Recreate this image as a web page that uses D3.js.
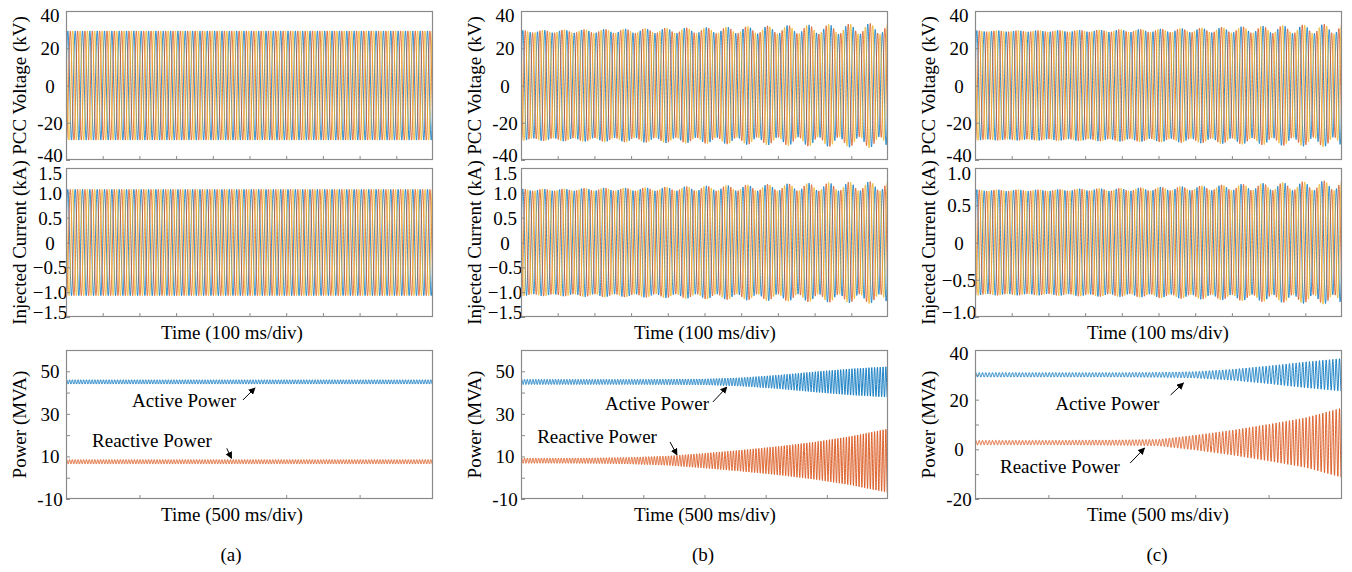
<!DOCTYPE html>
<html>
<head>
<meta charset="utf-8">
<script src="https://cdn.jsdelivr.net/npm/d3@7/dist/d3.min.js"></script>
<style>
  body { margin: 0; background: #fff; }
  svg text { font-family: "Liberation Serif", "Times New Roman", serif; font-size: 19px; fill: #000; }
</style>
</head>
<body>
<svg id="chart" width="1352" height="572"></svg>
<script>
/* global d3 */

// envelope sample points, as fraction of the time window
const envT = [0, 0.1, 0.2, 0.3, 0.4, 0.5, 0.6, 0.7, 0.8, 0.9, 1.0];

// PCC voltage peak (kV) and sub-synchronous part (kV), per case
const voltAmpA = [29.3, 29.3, 29.3, 29.3, 29.3, 29.3, 29.3, 29.3, 29.3, 29.3, 29.3];
const voltModA = [0, 0, 0, 0, 0, 0, 0, 0, 0, 0, 0];
const voltAmpB = [29.0, 29.1, 29.2, 29.3, 29.5, 29.6, 29.8, 30.0, 30.2, 30.4, 30.6];
const voltModB = [0.6, 0.8, 1.0, 1.2, 1.4, 1.6, 1.9, 2.2, 2.5, 2.8, 3.1];
const voltAmpC = [29.2, 29.2, 29.2, 29.3, 29.4, 29.5, 29.7, 29.9, 30.1, 30.3, 30.5];
const voltModC = [0.3, 0.3, 0.4, 0.5, 0.7, 0.9, 1.2, 1.6, 2.0, 2.4, 2.8];

// injected current peak (kA) and sub-synchronous part (kA)
const currAmpA = [1.07, 1.07, 1.07, 1.07, 1.07, 1.07, 1.07, 1.07, 1.07, 1.07, 1.07];
const currModA = [0, 0, 0, 0, 0, 0, 0, 0, 0, 0, 0];
const currAmpB = [1.06, 1.06, 1.07, 1.07, 1.08, 1.09, 1.10, 1.11, 1.12, 1.13, 1.14];
const currModB = [0.02, 0.02, 0.03, 0.03, 0.04, 0.05, 0.06, 0.07, 0.08, 0.09, 0.10];
const currAmpC = [0.70, 0.70, 0.70, 0.71, 0.71, 0.72, 0.73, 0.74, 0.75, 0.76, 0.77];
const currModC = [0.01, 0.01, 0.01, 0.015, 0.02, 0.025, 0.03, 0.04, 0.05, 0.06, 0.07];

// power: mean level (MVA) and oscillation half-swing (MVA)
const activeMean = [45, 45, 30];
const reactiveMean = [7.5, 8.0, 2.7];
const activeSwingA = [1.0, 1.0, 1.0, 1.0, 1.0, 1.0, 1.0, 1.0, 1.0, 1.0, 1.0];
const reactiveSwingA = [1.0, 1.0, 1.0, 1.0, 1.0, 1.0, 1.0, 1.0, 1.0, 1.0, 1.0];
const activeSwingB = [1.2, 1.2, 1.2, 1.2, 1.3, 1.4, 2.0, 3.2, 4.8, 6.2, 7.2];
const reactiveSwingB = [1.2, 1.2, 1.3, 1.6, 2.2, 3.5, 5.0, 6.7, 8.8, 11.5, 15.0];
const activeSwingC = [0.9, 0.9, 0.9, 0.9, 0.9, 1.0, 1.3, 2.2, 3.6, 5.2, 6.6];
const reactiveSwingC = [0.9, 0.9, 0.9, 1.0, 1.1, 1.3, 3.0, 5.0, 7.4, 10.0, 14.0];

// cycles shown in each window
const gridCycles = 50;        // 1 s at 50 Hz
const subSyncCycles = 32;
const powerCycles = [130, 130, 110];

// axes
const voltTicks = [-40, -20, 0, 20, 40];
const currTicksAB = [-1.5, -1, -0.5, 0, 0.5, 1, 1.5];
const currTicksC = [-1, -0.5, 0, 0.5, 1];
const powerTicksAB = [-10, 0, 10, 20, 30, 40, 50];
const powerLabelsAB = [-10, 10, 30, 50];
const powerTicksC = [-20, -10, 0, 10, 20, 30, 40];
const powerLabelsC = [-20, 0, 20, 40];
const powerDivs = [5, 6, 5];

// annotation positions [time fraction, value]
const activeText = [[0.18, 33.2], [0.229, 31.8], [0.219, 15.8]];
const activeArrow = [[[0.482, 36.5], [0.515, 42.2]], [[0.523, 35.6], [0.561, 42.6]], [[0.533, 21.9], [0.568, 26.7]]];
const reactiveText = [[0.071, 14.4], [0.044, 16.3], [0.068, -9.5]];
const reactiveArrow = [[[0.438, 13.8], [0.451, 9.1]], [[0.406, 16.8], [0.425, 10.7]], [[0.423, -5.5], [0.462, 0.5]]];

const captions = ["(a)", "(b)", "(c)"];
const phaseColors = ["#0072BD", "#D95319", "#EDB120"];
const activeColor = "#0072BD";
const reactiveColor = "#D95319";

const colLeft = [66, 521, 975];
const plotW = 367;
const labelCenter = [232, 705, 1158];
const captionCenter = [231, 703, 1157];
const rows = [{ top: 11, bottom: 160 }, { top: 168, bottom: 317 }, { top: 350, bottom: 499 }];
const frameColor = "#8a8a8a";

const svg = d3.select("#chart");
svg.append("rect").attr("width", 1352).attr("height", 572).attr("fill", "#fff");
const defs = svg.append("defs");
defs.append("marker")
    .attr("id", "head")
    .attr("viewBox", "0 0 10 10")
    .attr("refX", 9).attr("refY", 5)
    .attr("markerWidth", 7).attr("markerHeight", 7)
    .attr("markerUnits", "userSpaceOnUse")
    .attr("orient", "auto")
    .append("path")
    .attr("d", "M0,0L10,5L0,10z")
    .attr("fill", "#000");

const intFmt = v => String(v);
const oneDec = v => v === 0 ? "0" : d3.format(".1f")(v);

const makePanel = (col, row, yDomain) => {
    const x = d3.scaleLinear().domain([0, 1]).range([colLeft[col], colLeft[col] + plotW]);
    const y = d3.scaleLinear().domain(yDomain).range([rows[row].bottom, rows[row].top]);
    const clipId = "clip" + col + "_" + row;
    defs.append("clipPath").attr("id", clipId)
        .append("rect")
        .attr("x", colLeft[col]).attr("y", rows[row].top)
        .attr("width", plotW).attr("height", rows[row].bottom - rows[row].top);
    const plot = svg.append("g").attr("clip-path", "url(#" + clipId + ")");
    const over = svg.append("g");
    return { x, y, plot, over, col, row };
};

const drawAxes = (p, ticks, labelled, fmt, xDivs, yLabel, nudgeTop, nudgeBottom) => {
    const yAxis = d3.axisLeft(p.y)
        .tickValues(ticks)
        .tickSize(-4)
        .tickFormat(d => labelled.includes(d) ? fmt(d) : "");
    const ga = p.over.append("g")
        .attr("transform", "translate(" + colLeft[p.col] + ",0)")
        .call(yAxis);
    ga.select(".domain").remove();
    ga.selectAll("line").attr("stroke", frameColor);
    const top = d3.max(ticks), bottom = d3.min(ticks);
    ga.selectAll("text")
        .attr("x", -16)
        .attr("text-anchor", "middle")
        .attr("fill", "#000")
        .style("font-size", "19px")
        .style("font-family", "'Liberation Serif', 'Times New Roman', serif")
        .attr("dy", d => (d === top ? nudgeTop : d === bottom ? -nudgeBottom : 0) + 6.5 + "px");

    const xAxis = d3.axisBottom(p.x)
        .tickValues(d3.range(1, xDivs).map(i => i / xDivs))
        .tickSize(-4)
        .tickFormat("");
    const gx = p.over.append("g")
        .attr("transform", "translate(0," + rows[p.row].bottom + ")")
        .call(xAxis);
    gx.select(".domain").remove();
    gx.selectAll("line").attr("stroke", frameColor);

    p.over.append("rect")
        .attr("x", colLeft[p.col] + 0.5).attr("y", rows[p.row].top + 0.5)
        .attr("width", plotW - 1).attr("height", rows[p.row].bottom - rows[p.row].top - 1)
        .attr("fill", "none")
        .attr("stroke", frameColor)
        .attr("stroke-width", 1.2);

    const cy = (rows[p.row].top + rows[p.row].bottom) / 2;
    p.over.append("text")
        .attr("transform", "translate(" + (colLeft[p.col] - 47) + "," + cy + ") rotate(-90)")
        .attr("text-anchor", "middle")
        .attr("dy", "0.35em")
        .text(yLabel);
};

const threePhase = (p, amp, mod) => {
    const ampS = d3.scaleLinear().domain(envT).range(amp);
    const modS = d3.scaleLinear().domain(envT).range(mod);
    const n = 4000;
    const line = d3.line().x(d => p.x(d[0])).y(d => p.y(d[1]));
    phaseColors.forEach((c, k) => {
        const shift = 2 * Math.PI * k / 3;
        const pts = d3.range(n + 1).map(i => {
            const t = i / n;
            return [t, ampS(t) * Math.sin(2 * Math.PI * gridCycles * t - shift)
                + modS(t) * Math.sin(2 * Math.PI * subSyncCycles * t - shift + 0.6)];
        });
        p.plot.append("path")
            .datum(pts)
            .attr("fill", "none")
            .attr("stroke", c)
            .attr("stroke-width", 0.8)
            .attr("d", line);
    });
};

const powerTrace = (p, mean, swing, cycles, color) => {
    const swingS = d3.scaleLinear().domain(envT).range(swing);
    const n = 5000;
    const pts = d3.range(n + 1).map(i => {
        const t = i / n;
        return [t, mean + swingS(t) * Math.sin(2 * Math.PI * cycles * t)];
    });
    p.plot.append("path")
        .datum(pts)
        .attr("fill", "none")
        .attr("stroke", color)
        .attr("stroke-width", 0.9)
        .attr("d", d3.line().x(d => p.x(d[0])).y(d => p.y(d[1])));
};

const annotate = (p, label, pos, arrow) => {
    p.over.append("text")
        .attr("x", p.x(pos[0]))
        .attr("y", p.y(pos[1]))
        .text(label);
    p.over.append("line")
        .attr("x1", p.x(arrow[0][0])).attr("y1", p.y(arrow[0][1]))
        .attr("x2", p.x(arrow[1][0])).attr("y2", p.y(arrow[1][1]))
        .attr("stroke", "#000")
        .attr("stroke-width", 1)
        .attr("marker-end", "url(#head)");
};

const volt = [[voltAmpA, voltModA], [voltAmpB, voltModB], [voltAmpC, voltModC]];
const curr = [[currAmpA, currModA], [currAmpB, currModB], [currAmpC, currModC]];
const actSwing = [activeSwingA, activeSwingB, activeSwingC];
const reactSwing = [reactiveSwingA, reactiveSwingB, reactiveSwingC];

[0, 1, 2].forEach(col => {
    // PCC voltage
    const pv = makePanel(col, 0, [-40, 40]);
    threePhase(pv, volt[col][0], volt[col][1]);
    drawAxes(pv, voltTicks, voltTicks, intFmt, 10, "PCC Voltage (kV)", 4, 5);

    // injected current
    const cTicks = col === 2 ? currTicksC : currTicksAB;
    const pc = makePanel(col, 1, [d3.min(cTicks), d3.max(cTicks)]);
    threePhase(pc, curr[col][0], curr[col][1]);
    drawAxes(pc, cTicks, cTicks, oneDec, 10, "Injected Current (kA)", 5, 5);
    svg.append("text")
        .attr("x", labelCenter[col]).attr("y", 339)
        .attr("text-anchor", "middle")
        .text("Time (100 ms/div)");

    // power
    const pTicks = col === 2 ? powerTicksC : powerTicksAB;
    const pLabels = col === 2 ? powerLabelsC : powerLabelsAB;
    const pp = makePanel(col, 2, col === 2 ? [-20, 40] : [-10, 60]);
    powerTrace(pp, activeMean[col], actSwing[col], powerCycles[col], activeColor);
    powerTrace(pp, reactiveMean[col], reactSwing[col], powerCycles[col], reactiveColor);
    drawAxes(pp, pTicks, pLabels, intFmt, powerDivs[col], "Power (MVA)", col === 2 ? 3 : 0, 0);
    annotate(pp, "Active Power", activeText[col], activeArrow[col]);
    annotate(pp, "Reactive Power", reactiveText[col], reactiveArrow[col]);
    svg.append("text")
        .attr("x", labelCenter[col]).attr("y", 521)
        .attr("text-anchor", "middle")
        .text("Time (500 ms/div)");

    svg.append("text")
        .attr("x", captionCenter[col]).attr("y", 561)
        .attr("text-anchor", "middle")
        .text(captions[col]);
});
</script>
</body>
</html>
